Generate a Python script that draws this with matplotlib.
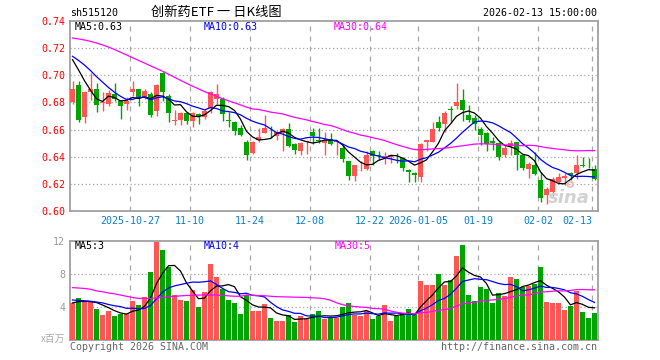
import numpy as np
import pandas as pd
import matplotlib
matplotlib.use("Agg")
import matplotlib.pyplot as plt

# ---------------------------------------------------------------
# data (trading day index -10 .. 77, 10-27 = 0)
# ---------------------------------------------------------------
opens = [0.6802, 0.6928, 0.6691, 0.6879, 0.6900, 0.6795, 0.6785, 0.6860, 0.6810, 0.6785,
         0.6877, 0.6900, 0.6836, 0.6860, 0.6735, 0.7020, 0.6850, 0.6660, 0.6670, 0.6722,
         0.6660, 0.6718, 0.6690, 0.6757, 0.6822, 0.6828, 0.6670, 0.6658, 0.6610, 0.6510,
         0.6428, 0.6520, 0.6577, 0.6600, 0.6553, 0.6577, 0.6604, 0.6494, 0.6444, 0.6505,
         0.6584, 0.6523, 0.6503, 0.6528, 0.6505, 0.6464, 0.6365, 0.6260, 0.6300, 0.6309,
         0.6445, 0.6415, 0.6390, 0.6398, 0.6415, 0.6390, 0.6300, 0.6277, 0.6250, 0.6510,
         0.6509, 0.6655, 0.6640, 0.6752, 0.6770, 0.6818, 0.6707, 0.6686, 0.6602, 0.6578,
         0.6516, 0.6504, 0.6410, 0.6479, 0.6509, 0.6410, 0.6306, 0.6340, 0.6232, 0.6119,
         0.6138, 0.6217, 0.6242, 0.6281, 0.6281, 0.6338, 0.6333, 0.6306]
highs = [0.6960, 0.6958, 0.6885, 0.7015, 0.6943, 0.6875, 0.6890, 0.6945, 0.6820, 0.6840,
         0.6960, 0.6900, 0.6900, 0.6875, 0.6937, 0.7025, 0.6860, 0.6745, 0.6728, 0.6730,
         0.6732, 0.6720, 0.6755, 0.6887, 0.6935, 0.6840, 0.6730, 0.6665, 0.6635, 0.6520,
         0.6515, 0.6610, 0.6707, 0.6627, 0.6590, 0.6610, 0.6646, 0.6498, 0.6510, 0.6525,
         0.6610, 0.6610, 0.6584, 0.6578, 0.6523, 0.6484, 0.6370, 0.6340, 0.6372, 0.6445,
         0.6450, 0.6440, 0.6435, 0.6420, 0.6427, 0.6398, 0.6311, 0.6286, 0.6500, 0.6525,
         0.6658, 0.6700, 0.6740, 0.6770, 0.6945, 0.6900, 0.6780, 0.6706, 0.6620, 0.6580,
         0.6546, 0.6506, 0.6489, 0.6520, 0.6512, 0.6415, 0.6360, 0.6435, 0.6286, 0.6175,
         0.6250, 0.6281, 0.6281, 0.6291, 0.6410, 0.6398, 0.6390, 0.6336]
lows = [0.6790, 0.6657, 0.6650, 0.6820, 0.6728, 0.6740, 0.6770, 0.6810, 0.6680, 0.6745,
        0.6850, 0.6775, 0.6825, 0.6690, 0.6700, 0.6810, 0.6655, 0.6630, 0.6632, 0.6640,
        0.6620, 0.6640, 0.6680, 0.6725, 0.6790, 0.6660, 0.6620, 0.6557, 0.6550, 0.6375,
        0.6420, 0.6510, 0.6575, 0.6537, 0.6525, 0.6440, 0.6470, 0.6418, 0.6414, 0.6418,
        0.6490, 0.6500, 0.6413, 0.6488, 0.6413, 0.6360, 0.6225, 0.6220, 0.6298, 0.6300,
        0.6340, 0.6375, 0.6348, 0.6355, 0.6355, 0.6292, 0.6217, 0.6217, 0.6217, 0.6445,
        0.6505, 0.6590, 0.6585, 0.6646, 0.6755, 0.6660, 0.6658, 0.6595, 0.6484, 0.6440,
        0.6447, 0.6373, 0.6398, 0.6410, 0.6299, 0.6299, 0.6242, 0.6262, 0.6064, 0.6052,
        0.6114, 0.6200, 0.6188, 0.6232, 0.6237, 0.6323, 0.6316, 0.6225]
closes = [0.6901, 0.6674, 0.6877, 0.6901, 0.6783, 0.6800, 0.6870, 0.6825, 0.6777, 0.6810,
          0.6900, 0.6832, 0.6885, 0.6710, 0.6930, 0.6878, 0.6720, 0.6668, 0.6722, 0.6665,
          0.6720, 0.6700, 0.6737, 0.6879, 0.6860, 0.6713, 0.6660, 0.6592, 0.6560, 0.6410,
          0.6508, 0.6545, 0.6613, 0.6595, 0.6584, 0.6604, 0.6480, 0.6450, 0.6503, 0.6518,
          0.6553, 0.6518, 0.6523, 0.6494, 0.6515, 0.6385, 0.6257, 0.6337, 0.6305, 0.6415,
          0.6405, 0.6405, 0.6405, 0.6415, 0.6410, 0.6316, 0.6287, 0.6262, 0.6496, 0.6523,
          0.6607, 0.6611, 0.6720, 0.6745, 0.6805, 0.6744, 0.6670, 0.6644, 0.6558, 0.6496,
          0.6504, 0.6398, 0.6464, 0.6504, 0.6410, 0.6316, 0.6348, 0.6274, 0.6094, 0.6163,
          0.6237, 0.6249, 0.6257, 0.6262, 0.6340, 0.6335, 0.6330, 0.6237]
volumes = [4.5, 5.1, 4.7, 4.6, 3.8, 3.0, 3.5, 2.9, 3.2, 3.1,
           4.7, 4.2, 5.2, 8.2, 11.9, 10.9, 8.8, 5.4, 4.8, 4.7,
           6.1, 4.0, 5.8, 9.2, 7.6, 6.2, 4.8, 4.5, 3.1, 5.4,
           3.5, 3.5, 4.4, 2.7, 2.3, 2.3, 3.0, 2.2, 2.9, 2.5,
           3.2, 3.5, 2.6, 2.7, 2.7, 4.0, 4.5, 3.0, 2.9, 3.5,
           2.5, 2.9, 4.2, 2.3, 2.9, 3.2, 3.7, 3.1, 7.1, 6.7,
           6.7, 8.0, 6.7, 7.3, 10.2, 11.5, 5.4, 4.7, 6.4, 6.2,
           4.5, 5.7, 5.3, 7.6, 7.4, 6.4, 6.6, 6.8, 8.8, 4.6,
           4.5, 4.5, 3.6, 4.1, 6.0, 3.4, 2.7, 3.3]

# MA values at the left edge (their history is off-chart)
ma5_lead = [0.7115, 0.7040, 0.6960, 0.6890]
ma10_lead = [0.7140, 0.7110, 0.7075, 0.7035, 0.6990, 0.6950, 0.6910, 0.6875, 0.6845]
ma30_lead = [0.7275, 0.7268, 0.7260, 0.7250, 0.7238, 0.7224, 0.7208, 0.7190, 0.7170, 0.7150,
             0.7130, 0.7110, 0.7090, 0.7070, 0.7050, 0.7030, 0.7008, 0.6985, 0.6963, 0.6941,
             0.6920, 0.6900, 0.6880, 0.6862, 0.6845, 0.6828, 0.6812, 0.6797, 0.6782]
vma5_lead = [4.5, 4.65, 4.7, 4.65]
vma10_lead = [4.85, 4.8, 4.75, 4.7, 4.6, 4.5, 4.3, 4.15, 4.05]
vma30_lead = [6.35, 6.3, 6.25, 6.15, 5.95, 5.85, 5.7, 5.6, 5.45, 5.3,
              5.15, 5.05, 5.05, 5.05, 5.1, 5.15, 5.25, 5.3, 5.35, 5.4,
              5.4, 5.45, 5.45, 5.45, 5.45, 5.4, 5.35, 5.3, 5.3]

tick_days = [0, 10, 20, 30, 40, 48, 58, 68, 77]
tick_labels = ["2025-10-27", "11-10", "11-24", "12-08", "12-22",
               "2026-01-05", "01-19", "02-02", "02-13"]
price_ticks = [0.60, 0.62, 0.64, 0.66, 0.68, 0.70, 0.72, 0.74]
vol_ticks = [4, 8, 12]

# ---------------------------------------------------------------
RED = "#ff5555"
GREEN = "#00a400"
GRID = "#a8a8a8"
FRAME = "#a0a0a0"
MONO = "DejaVu Sans Mono"
CJK = ["Noto Sans CJK SC", "DejaVu Sans"]
W, H = 660, 360


def moving_average(values, n, lead):
    s = pd.Series(values, dtype=float).rolling(n).mean()
    s.iloc[:len(lead)] = lead
    return s.values


def px(x, y):
    return x / W, 1 - y / H


x = np.arange(-10, 78)
o = np.array(opens)
c = np.array(closes)
up = c >= o
colors = np.where(up, RED, GREEN)

fig = plt.figure(figsize=(W / 100, H / 100), dpi=100)
ax = fig.add_axes([70 / W, 1 - 211 / H, 528 / W, 190 / H])
axv = fig.add_axes([70 / W, 1 - 340 / H, 528 / W, 99 / H])

xlim = (-10 - 2.5 / 6, -10 - 2.5 / 6 + 88)
grid_x = np.array(tick_days) - 0.37

# ---- price panel ----
ax.vlines(x, lows, highs, colors=colors, linewidth=1, zorder=3)
body = np.maximum(np.abs(c - o), 0.0004)
ax.bar(x, body, bottom=np.minimum(o, c), width=0.83, color=colors,
       linewidth=0, zorder=4)
ax.plot(x, moving_average(closes, 5, ma5_lead), color="black", lw=0.9, zorder=5)
ax.plot(x, moving_average(closes, 10, ma10_lead), color="#0000ff", lw=0.9, zorder=5)
ax.plot(x, moving_average(closes, 30, ma30_lead), color="#ff00ff", lw=0.9, zorder=5)

ax.set_xlim(*xlim)
ax.set_ylim(0.60, 0.74)
ax.set_yticks(price_ticks)
ax.set_yticklabels([f"{v:.2f}" for v in price_ticks], color="#ff0000",
                   family=MONO, fontsize=7.2)
ax.set_xticks(grid_x)
ax.set_xticklabels(tick_labels, color="#0a7fd0", family=MONO, fontsize=7.2)
ax.get_xticklabels()[-1].set_ha("right")
ax.tick_params(length=0, pad=3.5)
for v in price_ticks[1:-1]:
    ax.axhline(v, color=GRID, lw=0.9, ls=(0, (1, 2)), zorder=1)
for gx in grid_x:
    ax.axvline(gx, color=GRID, lw=0.9, ls=(0, (4, 4)), zorder=1)

# sina watermark
fig.text(*px(590, 198), "sina", color="#d2d2d2", fontsize=13, style="italic",
         weight="bold", ha="right", va="center", zorder=2)
fig.text(*px(570, 184), "o", color="#f2b8b8", fontsize=9, weight="bold",
         ha="center", va="center", zorder=2)

# ---- volume panel ----
axv.bar(x, volumes, width=0.83, color=colors, linewidth=0, zorder=3)
axv.plot(x, moving_average(volumes, 5, vma5_lead), color="black", lw=0.9, zorder=5)
axv.plot(x, moving_average(volumes, 10, vma10_lead), color="#0000ff", lw=0.9, zorder=5)
axv.plot(x, moving_average(volumes, 30, vma30_lead), color="#ff00ff", lw=0.9, zorder=5)
axv.set_xlim(*xlim)
axv.set_ylim(0, 12)
axv.set_yticks(vol_ticks)
axv.set_yticklabels([str(v) for v in vol_ticks], color="#999999",
                    family=MONO, fontsize=7.2)
axv.set_xticks([])
axv.tick_params(length=0, pad=3.5)
for v in vol_ticks[:-1]:
    axv.axhline(v, color=GRID, lw=0.9, ls=(0, (1, 2)), zorder=1)
for gx in grid_x:
    axv.axvline(gx, color=GRID, lw=0.9, ls=(0, (4, 4)), zorder=1)

for a in (ax, axv):
    for sp in a.spines.values():
        sp.set_color(FRAME)
        sp.set_linewidth(1.3)

# ---- texts ----
fig.text(*px(70, 13), "sh515120", family=MONO, fontsize=7.2, va="center")
fig.text(*px(216, 12), "创新药ETF 一 日K线图", family=CJK, fontsize=9.5,
         ha="center", va="center")
fig.text(*px(597, 13), "2026-02-13 15:00:00", family=MONO, fontsize=7.2,
         ha="right", va="center")

fig.text(*px(75, 26.5), "MA5:0.63", family=MONO, fontsize=7.2, va="center")
fig.text(*px(204, 26.5), "MA10:0.63", family=MONO, fontsize=7.2, va="center",
         color="#0000ff")
fig.text(*px(334, 26.5), "MA30:0.64", family=MONO, fontsize=7.2, va="center",
         color="#ff00ff")
fig.text(*px(75, 246), "MA5:3", family=MONO, fontsize=7.2, va="center")
fig.text(*px(204, 246), "MA10:4", family=MONO, fontsize=7.2, va="center",
         color="#0000ff")
fig.text(*px(335, 246), "MA30:5", family=MONO, fontsize=7.2, va="center",
         color="#ff00ff")

fig.text(*px(65, 339), "x百万", family=CJK, fontsize=7, ha="right",
         va="center", color="#aaaaaa")
fig.text(*px(70, 347), "Copyright 2026 SINA.COM", family=MONO, fontsize=7.2,
         va="center", color="#666666")
fig.text(*px(597, 347), "http://finance.sina.com.cn", family=MONO, fontsize=7.2,
         ha="right", va="center", color="#666666")

fig.savefig("out.png", dpi=100)
